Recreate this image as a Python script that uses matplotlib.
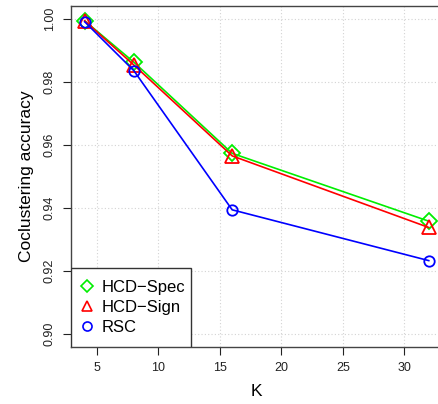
import matplotlib
matplotlib.use("Agg")
import matplotlib.pyplot as plt
from matplotlib.patches import Rectangle

plt.rcParams["font.family"] = ["Liberation Sans", "DejaVu Sans"]

k_values = [4, 8, 16, 32]
hcd_spec = [0.9993, 0.9862, 0.9573, 0.9358]
hcd_sign = [0.9993, 0.9853, 0.9565, 0.9338]
rsc = [0.9990, 0.9835, 0.9394, 0.9233]

x_ticks = [5, 10, 15, 20, 25, 30]
y_ticks = [0.90, 0.92, 0.94, 0.96, 0.98, 1.00]

fig = plt.figure(figsize=(4.39, 4.04), dpi=100)
ax = fig.add_axes([0.1617, 0.1418, 1.008 - 0.1617, 0.985 - 0.1418])

ax.set_xlim(2.88, 33.12)
ax.set_ylim(0.896, 1.004)

for v in x_ticks:
    ax.axvline(v, color="#d3d3d3", lw=0.8, ls=(0, (1, 2)), zorder=0)
for v in y_ticks:
    ax.axhline(v, color="#d3d3d3", lw=0.8, ls=(0, (1, 2)), zorder=0)

ax.plot(k_values, hcd_spec, color="#00ee00", lw=1.2, marker="D", ms=8.5,
        mfc="none", mec="#00ee00", mew=1.3, zorder=3)
ax.plot(k_values, hcd_sign, color="#ff0000", lw=1.2, marker="^", ms=9.5,
        mfc="none", mec="#ff0000", mew=1.3, zorder=4)
ax.plot(k_values, rsc, color="#0000ff", lw=1.2, marker="o", ms=7.5,
        mfc="none", mec="#0000ff", mew=1.3, zorder=5)

ax.set_xticks(x_ticks)
ax.set_xticklabels([str(v) for v in x_ticks])
ax.set_yticks(y_ticks)
ax.set_yticklabels([f"{v:.2f}" for v in y_ticks], rotation=90, va="center")
ax.tick_params(direction="out", length=6, width=0.8, labelsize=9, pad=5,
               colors="#222222", labelcolor="#222222")

for s in ax.spines.values():
    s.set_color("#444444")
    s.set_linewidth(1.0)

ax.set_xlabel("K", fontsize=12.5, labelpad=7)
ax.set_ylabel("Coclustering accuracy", fontsize=12.5, labelpad=7)

# legend box like R's legend("bottomleft")
box = (0.323, 0.232)
ax.add_patch(Rectangle((0, 0), box[0], box[1], transform=ax.transAxes,
                       facecolor="white", edgecolor="#333333", lw=1.0, zorder=6))

h1, = ax.plot([], [], ls="none", marker="D", ms=6.5, mfc="none", mec="#00ee00", mew=1.2)
h2, = ax.plot([], [], ls="none", marker="^", ms=7.5, mfc="none", mec="#ff0000", mew=1.2)
h3, = ax.plot([], [], ls="none", marker="o", ms=6.5, mfc="none", mec="#0000ff", mew=1.2)
leg = ax.legend([h1, h2, h3], ["HCD\u2212Spec", "HCD\u2212Sign", "RSC"],
                loc="center left", bbox_to_anchor=(0.0, 0.0, box[0], box[1]),
                borderaxespad=0, fontsize=12, frameon=False, handlelength=0.92,
                handletextpad=0.44, labelspacing=0.3, borderpad=0.5)
leg.set_zorder(7)

fig.savefig("out.png", dpi=100)
